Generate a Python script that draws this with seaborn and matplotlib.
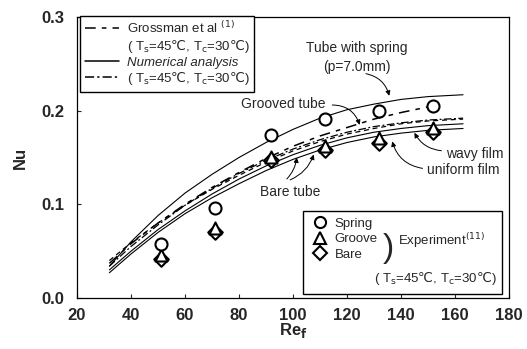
import matplotlib
matplotlib.use("Agg")
import matplotlib.pyplot as plt
from matplotlib.lines import Line2D
from matplotlib.patches import Rectangle
import seaborn as sns

# --- data ---
re_curve = [32, 40, 50, 60, 70, 80, 90, 100, 110, 120, 130, 140, 150, 163]
spring_num = [0.034, 0.060, 0.088, 0.112, 0.132, 0.150, 0.166, 0.180, 0.192, 0.201, 0.207, 0.212, 0.215, 0.217]
bare_uniform = [0.027, 0.047, 0.070, 0.090, 0.107, 0.122, 0.136, 0.148, 0.158, 0.166, 0.172, 0.176, 0.179, 0.181]
bare_wavy = [0.030, 0.050, 0.073, 0.093, 0.111, 0.127, 0.141, 0.153, 0.163, 0.171, 0.177, 0.181, 0.184, 0.186]
bare_dashdot = [0.034, 0.055, 0.078, 0.099, 0.117, 0.133, 0.147, 0.159, 0.169, 0.177, 0.183, 0.187, 0.190, 0.192]
bare_grossman = [0.040, 0.059, 0.080, 0.099, 0.116, 0.131, 0.145, 0.157, 0.167, 0.175, 0.181, 0.186, 0.189, 0.191]

re_groove = [32, 40, 50, 60, 70, 80, 90, 100, 110, 120, 130, 140, 150, 155]
groove_grossman = [0.037, 0.058, 0.080, 0.100, 0.118, 0.134, 0.149, 0.162, 0.173, 0.182, 0.191, 0.198, 0.204, 0.206]

re_exp = [51, 71, 92, 112, 132, 152]
exp_spring = [0.058, 0.096, 0.174, 0.191, 0.200, 0.205]
exp_groove = [0.046, 0.075, 0.151, 0.162, 0.171, 0.181]
exp_bare = [0.042, 0.070, 0.147, 0.158, 0.166, 0.177]

x_ticks = [20, 40, 60, 80, 100, 120, 140, 160, 180]
y_ticks = [0.0, 0.1, 0.2, 0.3]

# --- style ---
sns.set_style("ticks")
plt.rcParams['font.family'] = ['Liberation Sans', 'DejaVu Sans']
plt.rcParams['mathtext.fontset'] = 'custom'
plt.rcParams['mathtext.rm'] = 'DejaVu Sans'
plt.rcParams['mathtext.it'] = 'DejaVu Sans:italic'
plt.rcParams['mathtext.bf'] = 'DejaVu Sans:bold'

fig = plt.figure(figsize=(5.27, 3.49), dpi=100)
ax = fig.add_axes([0.1461, 0.1461, 0.8197, 0.8052])

dash_long = (0, (7, 4, 3, 4))
dash_dot = (0, (6, 2, 1.5, 2))

# --- curves ---
sns.lineplot(x=re_curve, y=spring_num, color='black', lw=0.8, ax=ax)
sns.lineplot(x=re_curve, y=bare_uniform, color='black', lw=0.8, ax=ax)
sns.lineplot(x=re_curve, y=bare_wavy, color='black', lw=0.8, ax=ax)
sns.lineplot(x=re_curve, y=bare_dashdot, color='black', lw=0.9, linestyle=dash_dot, ax=ax)
sns.lineplot(x=re_curve, y=bare_grossman, color='black', lw=0.9, linestyle=(0, (4, 3)), ax=ax)
sns.lineplot(x=re_groove, y=groove_grossman, color='black', lw=1.1, linestyle=dash_long, ax=ax)

# --- experiment markers ---
mk = dict(facecolor='white', edgecolor='black', linewidth=1.5, s=75, ax=ax, zorder=5)
sns.scatterplot(x=re_exp, y=exp_bare, marker='D', **{**mk, 's': 55})
sns.scatterplot(x=re_exp, y=exp_groove, marker='^', **mk)
sns.scatterplot(x=re_exp, y=exp_spring, marker='o', **mk)

# --- axes ---
ax.set_xlim(20, 180)
ax.set_ylim(0.0, 0.3)
ax.set_xticks(x_ticks)
ax.set_yticks(y_ticks)
ax.set_yticklabels(['0.0', '0.1', '0.2', '0.3'])
ax.tick_params(direction='in', length=3, width=0.8, labelsize=12)
ax.tick_params(axis='x', pad=7)
ax.tick_params(axis='y', pad=9)
for lab in ax.get_xticklabels() + ax.get_yticklabels():
    lab.set_fontweight('bold')
for sp in ax.spines.values():
    sp.set_visible(True)
    sp.set_linewidth(0.9)
    sp.set_color('black')
ax.set_xlabel(r'Re$_{\mathbf{f}}$', fontsize=12, fontweight='bold', labelpad=-1)
ax.set_ylabel('Nu', fontsize=12, fontweight='bold', labelpad=10)

# --- upper legend ---
cond = r'( T$_\mathrm{s}$=45$℃$, T$_\mathrm{c}$=30$℃$)'
handles = [Line2D([], [], color='black', lw=1.1, linestyle=dash_long),
           Line2D([], [], color='none'),
           Line2D([], [], color='black', lw=1.1),
           Line2D([], [], color='black', lw=1.1, linestyle=dash_dot)]
labels = [r'Grossman et al $^{(1)}$', cond, 'Numerical analysis', cond]
leg = ax.legend(handles, labels, loc='upper left', bbox_to_anchor=(0.007, 1.005),
                borderaxespad=0, fontsize=9.5, handlelength=2.6, handletextpad=0.6,
                labelspacing=0.12, frameon=True, fancybox=False, edgecolor='black',
                framealpha=1, borderpad=0.35)
leg.get_frame().set_linewidth(1.0)
leg.get_texts()[2].set_style('italic')
ax.add_artist(leg)

# --- lower legend (experiment) ---
ax.add_patch(Rectangle((0.523, 0.014), 0.460, 0.296, transform=ax.transAxes,
                       facecolor='white', edgecolor='black', lw=1.0, zorder=6))
mh = [Line2D([], [], marker='o', ls='none', mfc='white', mec='black', mew=1.5, ms=8),
      Line2D([], [], marker='^', ls='none', mfc='white', mec='black', mew=1.5, ms=8),
      Line2D([], [], marker='D', ls='none', mfc='white', mec='black', mew=1.5, ms=7)]
leg2 = ax.legend(mh, ['Spring', 'Groove', 'Bare'], loc='upper left',
                 bbox_to_anchor=(0.535, 0.305), frameon=False, fontsize=9.5,
                 handlelength=1.0, handletextpad=0.6, labelspacing=0.25, borderaxespad=0)
leg2.set_zorder(7)
ax.text(0.722, 0.175, ')', transform=ax.transAxes, fontsize=24, ha='center', va='center',
        zorder=8, fontweight='light')
ax.text(0.743, 0.205, r'Experiment$^{(11)}$', transform=ax.transAxes, fontsize=9.5,
        ha='left', va='center', zorder=8)
ax.text(0.83, 0.068, cond, transform=ax.transAxes, fontsize=9.5, ha='center', va='center', zorder=8)

# --- annotations ---
arr = dict(arrowstyle='-|>', color='black', lw=0.7, mutation_scale=7)
ax.text(123.5, 0.267, 'Tube with spring', fontsize=10, ha='center', va='center')
ax.text(123.5, 0.247, '(p=7.0mm)', fontsize=10, ha='center', va='center')
ax.annotate('', xy=(135.9, 0.213), xytext=(126, 0.240),
            arrowprops={**arr, 'connectionstyle': 'arc3,rad=-0.35'})
ax.text(96.5, 0.2075, 'Grooved tube', fontsize=10, ha='center', va='center')
ax.annotate('', xy=(125, 0.182), xytext=(113.5, 0.206),
            arrowprops={**arr, 'connectionstyle': 'arc3,rad=-0.4'})
ax.text(156.5, 0.154, 'wavy film', fontsize=10, ha='left', va='center')
ax.annotate('', xy=(144.5, 0.179), xytext=(156, 0.157),
            arrowprops={**arr, 'connectionstyle': 'arc3,rad=-0.3'})
ax.text(149.5, 0.137, 'uniform film', fontsize=10, ha='left', va='center')
ax.annotate('', xy=(136.5, 0.170), xytext=(149, 0.138),
            arrowprops={**arr, 'connectionstyle': 'arc3,rad=-0.35'})
ax.text(99, 0.113, 'Bare tube', fontsize=10, ha='center', va='center')
ax.annotate('', xy=(101.5, 0.153), xytext=(97, 0.125),
            arrowprops={**arr, 'connectionstyle': 'arc3,rad=0.2'})
ax.annotate('', xy=(108, 0.156), xytext=(98, 0.125),
            arrowprops={**arr, 'connectionstyle': 'arc3,rad=0.25'})

fig.savefig('out.png', dpi=100)
